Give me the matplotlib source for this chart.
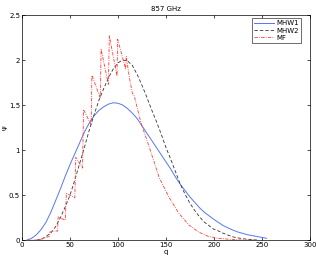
#!/usr/bin/env python3
"""Recreate the 857 GHz q-psi curves (MHW1, MHW2, MF)."""
import matplotlib
matplotlib.use("Agg")
import matplotlib.pyplot as plt

# MHW1, smooth curve, sampled every 5 in q
q_mhw1 = list(range(5, 260, 5))
psi_mhw1 = [0.0, 0.02, 0.06, 0.12, 0.20, 0.31, 0.44, 0.57, 0.71, 0.84,
            0.96, 1.08, 1.20, 1.30, 1.38, 1.44, 1.48, 1.51, 1.525, 1.52,
            1.50, 1.46, 1.41, 1.35, 1.27, 1.19, 1.11, 1.03, 0.95, 0.87,
            0.79, 0.70, 0.62, 0.55, 0.48, 0.42, 0.36, 0.31, 0.27, 0.23,
            0.195, 0.16, 0.135, 0.11, 0.09, 0.075, 0.06, 0.05, 0.04, 0.03,
            0.02]

# MHW2
q_mhw2 = list(range(15, 250, 5))
psi_mhw2 = [0.0, 0.01, 0.04, 0.08, 0.15, 0.25, 0.37, 0.50, 0.67, 0.85,
            1.03, 1.22, 1.39, 1.55, 1.68, 1.80, 1.90, 1.97, 2.00, 1.99,
            1.94, 1.84, 1.72, 1.59, 1.45, 1.32, 1.18, 1.03, 0.90, 0.76,
            0.62, 0.51, 0.41, 0.33, 0.26, 0.20, 0.16, 0.12, 0.10, 0.075,
            0.055, 0.035, 0.025, 0.015, 0.01, 0.005, 0.0]

# MF, sawtooth rise then smooth tail
q_mf = [5, 10, 15, 20, 25, 28.5, 29, 33, 37, 37.6, 45, 46.2, 55, 55.9,
        63, 64.1, 72, 72.8, 81.5, 82.4, 90, 91, 99, 99.7, 108, 108.6,
        112, 115, 117, 123.8, 132.4, 142.8, 153, 163.4, 173.8, 184,
        194.5, 205, 215, 230, 245]
psi_mf = [0.0, 0.0, 0.0, 0.01, 0.03, 0.04, 0.09, 0.10, 0.10, 0.26, 0.22,
          0.52, 0.47, 0.92, 0.80, 1.45, 1.28, 1.83, 1.58, 2.12, 1.73,
          2.27, 1.82, 2.23, 1.90, 2.04, 1.80, 1.63, 1.60, 1.31, 1.04,
          0.70, 0.48, 0.30, 0.17, 0.09, 0.04, 0.02, 0.01, 0.0, 0.0]

plt.rcParams["font.family"] = ["DejaVu Sans"]
plt.rcParams["font.size"] = 5

fig = plt.figure(figsize=(3.16, 2.59), dpi=100)
ax = fig.add_axes([0.070, 0.073, 0.910, 0.869])

ax.plot(q_mhw1, psi_mhw1, color="#5576f5", lw=0.7, label="MHW1")
ax.plot(q_mhw2, psi_mhw2, color="#333333", lw=0.6, ls=(0, (4, 2.5)),
        label="MHW2")
ax.plot(q_mf, psi_mf, color="#ff3b3b", lw=0.6, ls=(0, (4, 1.5, 1, 1.5)),
        label="MF")

ax.set_xlim(0, 300)
ax.set_ylim(0, 2.5)
ax.set_xticks(range(0, 301, 50))
ax.set_yticks([0, 0.5, 1, 1.5, 2, 2.5])
ax.set_yticklabels(["0", "0.5", "1", "1.5", "2", "2.5"])
ax.tick_params(direction="in", length=2.5, width=0.5, pad=1.5,
               top=True, right=True, labelsize=5)
for sp in ax.spines.values():
    sp.set_linewidth(0.5)

ax.set_xlabel("q", fontsize=5, labelpad=0.5)
ax.set_ylabel("ψ", fontsize=5, labelpad=1, rotation=90)
ax.set_title("857 GHz", fontsize=5, pad=3)

leg = ax.legend(loc="upper right", bbox_to_anchor=(0.97, 0.985),
                fontsize=5, frameon=True, fancybox=False, handlelength=2.8,
                borderpad=0.3, labelspacing=0.15, handletextpad=0.4,
                borderaxespad=0)
leg.get_frame().set_edgecolor("black")
leg.get_frame().set_linewidth(0.5)

fig.savefig("out.png", dpi=100)
